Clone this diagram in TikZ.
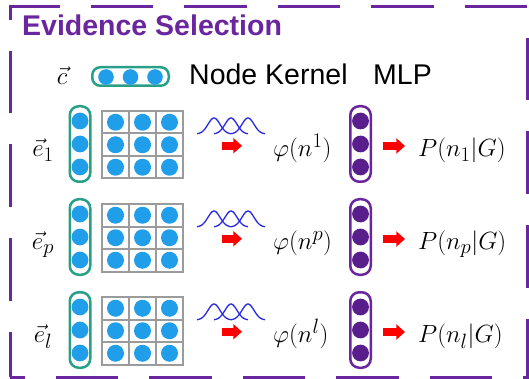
\documentclass[tikz,border=0pt]{standalone}
\usepackage{fontspec}
\usepackage{xcolor}
\usetikzlibrary{arrows.meta}
\newfontfamily\arialfont{Liberation Sans}
\definecolor{selviola}{RGB}{106,38,158}
\definecolor{kverde}{RGB}{40,160,136}
\definecolor{kblu}{RGB}{32,158,234}
\definecolor{mviola}{RGB}{88,30,140}
\definecolor{onda}{RGB}{40,40,225}
\definecolor{griglia}{RGB}{155,155,155}

\begin{document}
\begin{tikzpicture}[x=1pt, y=-1pt,
			testo/.style={inner sep=0pt, font=\fontsize{30}{36}\selectfont},
			nome/.style={inner sep=0pt, font=\arialfont\fontsize{28.5}{34}\selectfont},
			titolo/.style={inner sep=0pt, text=selviola, font=\arialfont\bfseries\fontsize{28.5}{34}\selectfont},
			gpill/.style={draw=kverde, line width=2.5pt, rounded corners=9pt, inner sep=0pt,
				minimum width=20.5pt, minimum height=75.5pt},
			mpill/.style={gpill, draw=selviola},
			griglia box/.style={draw=griglia, line width=2pt, inner sep=0pt,
				minimum width=81pt, minimum height=67.5pt},
			freccia/.style={red, line width=8.4pt, -{Triangle[length=8.7pt, width=15pt]}},
			cornice/.style={selviola, line width=3pt, dash pattern=on 62.5pt off 31pt, dash phase=17pt}]
			
			\useasboundingbox (0,0) rectangle (529,379);
			
			% Cornice tratteggiata e titolo
			\draw[cornice] (10,377) -- (10,7) -- (527,7) -- (527,377) -- cycle;
			\node[titolo, anchor=base west] (tit) at (22,35.4) {Evidence Selection};
			
			% Riga del vettore c
			\node[testo, anchor=base] (vc) at (62,85) {$\vec{c}$};
			\node[gpill, minimum width=76.5pt, minimum height=18.5pt, rounded corners=8pt] (c) at (130.5,76.5) {};
			\foreach \d in {106,130.5,155}
				\fill[kblu] (\d,77) circle (7.8pt);
			\node[nome, anchor=base west] (nk) at (189,85) {Node Kernel};
			\node[nome, anchor=base west] (mlp) at (373,85) {MLP};
			
			% --- Una riga per ogni evidenza ---
			\foreach \n/\r in {1/144, p/237, l/330} {
				% vettore e_n
				\node[testo, anchor=base] (le\n) at (43,\r+12.5) {$\vec{e}_{\n}$};
				\node[gpill] (e\n) at (80,\r) {};
				\foreach \d in {-23,0,23}
					\fill[kblu] (80,\r+\d) circle (8.4pt);
				
				% matrice 3x3
				\node[griglia box] (gr\n) at (142.5,\r+0.75) {};
				\foreach \xx in {129,156}
					\draw[griglia, line width=2pt] (\xx,\r-33) -- (\xx,\r+34.5);
				\foreach \yy in {-10.5,12}
					\draw[griglia, line width=2pt] (102,\r+\yy) -- (183,\r+\yy);
				\foreach \xx in {115.5,142.5,169.5}
					\foreach \yy in {-21.75,0.75,23.25}
						\fill[kblu] (\xx,\r+\yy) circle (8.5pt);
				
				% kernel gaussiani
				\foreach \pk in {214,231,248}
					\draw[onda, line width=1.3pt] plot[domain=-17:17, samples=41, smooth]
						({\pk+\x}, {\r-10-16*exp(-\x*\x/72)});
				
				% phi(n), MLP e probabilita'
				\node[testo, anchor=base west] (ph\n) at (273,\r+12.5) {$\varphi(n^{\n})$};
				\node[mpill] (m\n) at (360.5,\r) {};
				\foreach \d in {-23,0,23}
					\fill[mviola] (360.5,\r+\d) circle (8.4pt);
				\node[testo, anchor=base west] (P\n) at (418,\r+12.5) {$P(n_{\n}|G)$};
				
				\draw[freccia, shorten <=38pt, shorten >=31pt] ([yshift=-1pt]gr\n.east) -- ([yshift=-1pt]gr\n.east -| ph\n.west);
				\draw[freccia, shorten <=11pt, shorten >=13pt] ([yshift=-2pt]m\n.east) -- ([yshift=-2pt]m\n.east -| P\n.west);
			}
		\end{tikzpicture}
\end{document}
